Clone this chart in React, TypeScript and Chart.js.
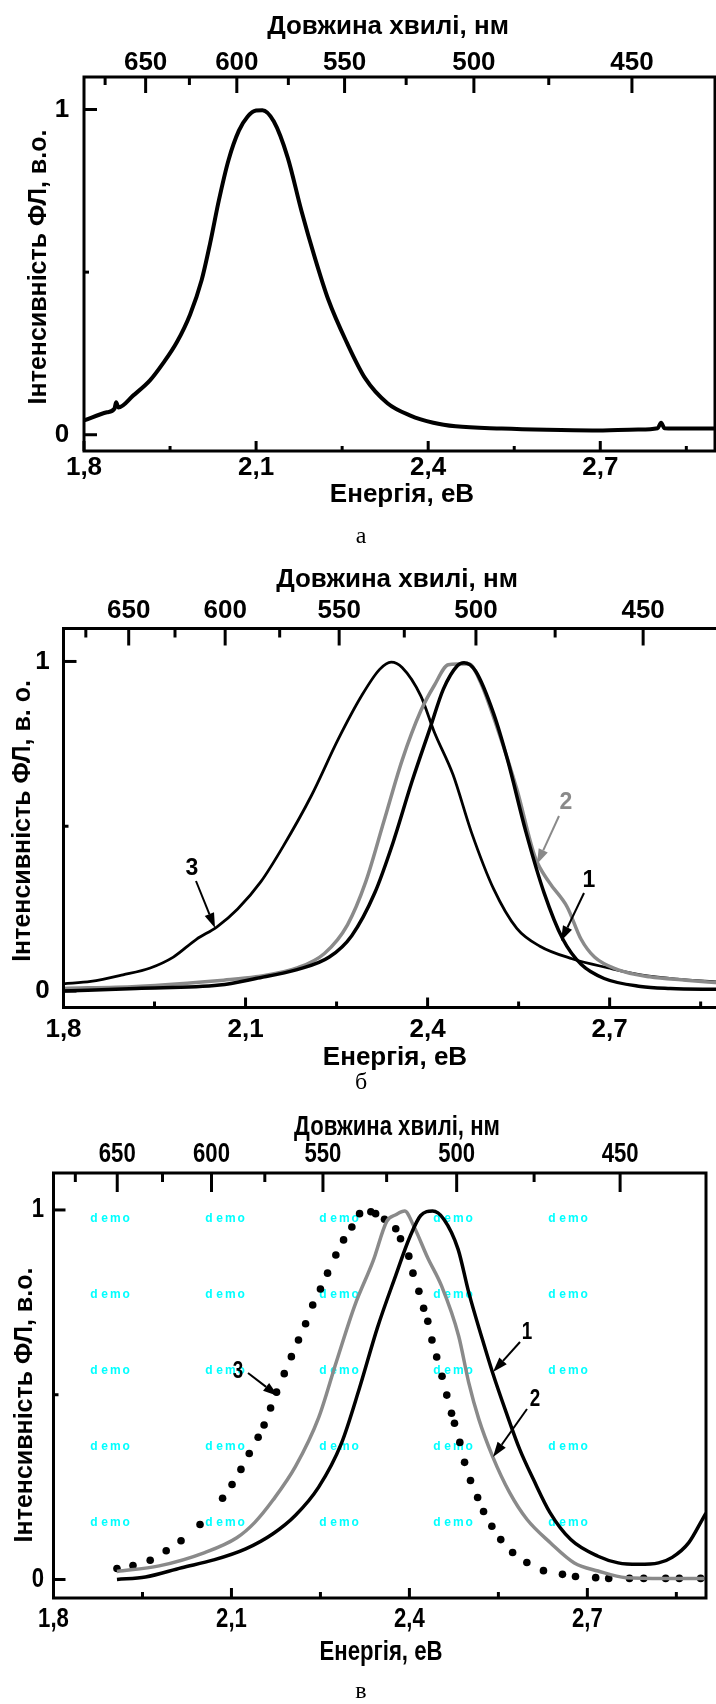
import React, { useEffect, useRef } from "react";
import { Chart, registerables } from "chart.js";

Chart.register(...registerables);

// ---------- axis ticks ----------
const ENERGY_TICKS = [1.8, 2.1, 2.4, 2.7];
const ENERGY_MINOR = [1.95, 2.25, 2.55, 2.85];
const WAVELENGTH_TICKS = [650, 600, 550, 500, 450];
const WAVELENGTH_MINOR = [675, 625, 575, 525, 475];
const INTENSITY_TICKS = [0, 1];
const INTENSITY_MINOR = [0.5];
const HC = 1239.84; // eV*nm

// ---------- panel a ----------
const A_E = [1.8, 1.84, 1.853, 1.856, 1.86, 1.886, 1.915, 1.938, 1.962, 1.985, 2.005, 2.02, 2.035, 2.052, 2.07, 2.085, 2.1, 2.111, 2.131, 2.155, 2.179, 2.202, 2.226, 2.258, 2.29, 2.329, 2.369, 2.409, 2.448, 2.528, 2.607, 2.686, 2.766, 2.8, 2.806, 2.812, 2.85, 2.9];
const A_I = [0.044, 0.069, 0.08, 0.1, 0.084, 0.121, 0.167, 0.22, 0.285, 0.37, 0.475, 0.59, 0.72, 0.845, 0.935, 0.978, 0.997, 0.998, 0.963, 0.853, 0.689, 0.547, 0.415, 0.284, 0.174, 0.097, 0.059, 0.037, 0.026, 0.019, 0.015, 0.013, 0.016, 0.02, 0.037, 0.02, 0.019, 0.019];

// ---------- panel b ----------
const B1_E = [1.8, 1.92, 2.057, 2.117, 2.185, 2.238, 2.275, 2.313, 2.343, 2.374, 2.404, 2.426, 2.449, 2.46, 2.479, 2.509, 2.532, 2.562, 2.592, 2.623, 2.653, 2.691, 2.751, 2.8, 2.88];
const B1_I = [0.0, 0.008, 0.018, 0.038, 0.065, 0.103, 0.168, 0.298, 0.45, 0.634, 0.797, 0.916, 0.987, 0.996, 0.971, 0.841, 0.7, 0.483, 0.298, 0.157, 0.081, 0.038, 0.014, 0.008, 0.005];
const B2_E = [1.8, 1.92, 2.064, 2.117, 2.185, 2.23, 2.268, 2.298, 2.328, 2.358, 2.389, 2.411, 2.434, 2.449, 2.468, 2.487, 2.517, 2.547, 2.577, 2.6, 2.63, 2.653, 2.675, 2.713, 2.766, 2.826, 2.88];
const B2_I = [0.008, 0.014, 0.033, 0.043, 0.07, 0.114, 0.201, 0.331, 0.515, 0.7, 0.851, 0.927, 0.99, 0.992, 0.992, 0.938, 0.786, 0.613, 0.407, 0.331, 0.255, 0.157, 0.103, 0.065, 0.043, 0.033, 0.025];
const B3_E = [1.8, 1.845, 1.898, 1.943, 1.981, 2.019, 2.053, 2.087, 2.125, 2.162, 2.208, 2.253, 2.291, 2.321, 2.34, 2.358, 2.389, 2.411, 2.442, 2.472, 2.509, 2.547, 2.585, 2.638, 2.698, 2.751, 2.811, 2.88];
const B3_I = [0.022, 0.029, 0.049, 0.07, 0.103, 0.157, 0.195, 0.249, 0.331, 0.439, 0.591, 0.765, 0.895, 0.976, 0.998, 0.982, 0.895, 0.786, 0.656, 0.483, 0.309, 0.19, 0.136, 0.098, 0.07, 0.049, 0.036, 0.027];

// ---------- panel c ----------
const C1_E = [1.907, 1.955, 2.016, 2.07, 2.124, 2.17, 2.208, 2.247, 2.285, 2.316, 2.346, 2.377, 2.4, 2.419, 2.439, 2.458, 2.482, 2.5, 2.523, 2.54, 2.563, 2.586, 2.609, 2.637, 2.672, 2.718, 2.752, 2.786, 2.82, 2.843, 2.871, 2.894, 2.9];
const C1_I = [0.0, 0.007, 0.032, 0.053, 0.083, 0.124, 0.174, 0.25, 0.367, 0.519, 0.681, 0.823, 0.924, 0.985, 0.997, 0.975, 0.894, 0.777, 0.65, 0.561, 0.453, 0.352, 0.271, 0.181, 0.108, 0.063, 0.045, 0.041, 0.045, 0.06, 0.1, 0.163, 0.18];
const C2_E = [1.907, 1.978, 2.055, 2.109, 2.139, 2.17, 2.208, 2.247, 2.277, 2.308, 2.339, 2.362, 2.377, 2.392, 2.408, 2.431, 2.454, 2.483, 2.5, 2.517, 2.54, 2.569, 2.598, 2.638, 2.678, 2.718, 2.765, 2.83, 2.9];
const C2_I = [0.022, 0.037, 0.073, 0.113, 0.154, 0.215, 0.306, 0.438, 0.59, 0.742, 0.863, 0.97, 0.987, 0.997, 0.954, 0.87, 0.795, 0.659, 0.533, 0.434, 0.334, 0.235, 0.163, 0.099, 0.045, 0.023, 0.005, 0.003, 0.003];
const C3_E = [1.907, 1.934, 1.963, 1.99, 2.015, 2.047, 2.085, 2.101, 2.116, 2.13, 2.145, 2.155, 2.166, 2.176, 2.189, 2.201, 2.213, 2.225, 2.237, 2.25, 2.262, 2.276, 2.289, 2.303, 2.316, 2.335, 2.343, 2.358, 2.377, 2.385, 2.399, 2.406, 2.416, 2.424, 2.431, 2.438, 2.446, 2.455, 2.463, 2.471, 2.476, 2.485, 2.493, 2.503, 2.515, 2.525, 2.539, 2.554, 2.574, 2.598, 2.626, 2.658, 2.68, 2.714, 2.736, 2.771, 2.795, 2.832, 2.855, 2.891];
const C3_I = [0.03, 0.038, 0.052, 0.078, 0.105, 0.149, 0.22, 0.257, 0.298, 0.341, 0.385, 0.418, 0.464, 0.507, 0.557, 0.603, 0.648, 0.692, 0.743, 0.786, 0.829, 0.878, 0.919, 0.954, 0.99, 0.995, 0.99, 0.975, 0.949, 0.922, 0.875, 0.829, 0.78, 0.734, 0.699, 0.648, 0.602, 0.55, 0.499, 0.45, 0.423, 0.371, 0.317, 0.268, 0.222, 0.184, 0.144, 0.108, 0.073, 0.046, 0.024, 0.014, 0.008, 0.005, 0.003, 0.003, 0.003, 0.003, 0.003, 0.003];

// ---------- text ----------
const TOP_TITLE = "Довжина хвилі, нм";
const X_TITLE = "Енергія, еВ";
const Y_TITLE_A = "Інтенсивність ФЛ, в.о.";
const Y_TITLE_B = "Інтенсивність ФЛ, в. о.";
const Y_TITLE_C = "Інтенсивність ФЛ, в.о.";

const SANS = '"Liberation Sans", Arial, Helvetica, sans-serif';
const SERIF = '"Liberation Serif", "Times New Roman", serif';
const GRAY = "#8a8a8a";

type Arrow = { label: string; color: string; tx: number; ty: number; x1: number; y1: number; x2: number; y2: number };
type Cfg = {
  top: number; width: number; height: number;
  plot: { l: number; t: number; r: number; b: number }; // absolute page coords
  sx: number; fontSize: number;
  topTitle: [number, number]; xTitle: [number, number]; yTitle: [number, number];
  yTitleText: string; caption: [string, number, number];
  topLabY: number; botLabY: number; leftLabX: number;
  tk: { tM: number; tm: number; bM: number; bm: number; lM: number; lm: number };
  arrows: Arrow[]; demo: boolean; frameW: number;
};

function txt(ctx: CanvasRenderingContext2D, s: string, x: number, y: number, font: string, sx = 1, color = "#000", rot = 0) {
  ctx.save();
  ctx.font = font;
  ctx.fillStyle = color;
  ctx.textAlign = "center";
  ctx.textBaseline = "middle";
  ctx.translate(x, y);
  if (rot) ctx.rotate(rot);
  ctx.scale(sx, 1);
  ctx.fillText(s, 0, 0);
  ctx.restore();
}

function drawArrow(ctx: CanvasRenderingContext2D, a: Arrow, dy: number) {
  const x1 = a.x1, y1 = a.y1 - dy, x2 = a.x2, y2 = a.y2 - dy;
  const ang = Math.atan2(y2 - y1, x2 - x1);
  const hl = 15, hw = 5;
  const bx = x2 - hl * Math.cos(ang), by = y2 - hl * Math.sin(ang);
  ctx.save();
  ctx.strokeStyle = a.color;
  ctx.fillStyle = a.color;
  ctx.lineWidth = 2;
  ctx.beginPath();
  ctx.moveTo(x1, y1);
  ctx.lineTo(bx, by);
  ctx.stroke();
  ctx.beginPath();
  ctx.moveTo(x2, y2);
  ctx.lineTo(bx + hw * Math.sin(ang), by - hw * Math.cos(ang));
  ctx.lineTo(bx - hw * Math.sin(ang), by + hw * Math.cos(ang));
  ctx.closePath();
  ctx.fill();
  ctx.restore();
}

const DEMO_X = [110, 225, 339, 453, 568];
const DEMO_Y = [1219, 1295, 1371, 1447, 1523];

function makePlugin(cfg: Cfg) {
  const dy = cfg.top;
  return {
    id: "frame" + cfg.top,
    beforeDatasetsDraw(chart: any) {
      if (!cfg.demo) return;
      const ctx = chart.ctx as CanvasRenderingContext2D;
      ctx.save();
      ctx.font = `bold 12px ${SANS}`;
      ctx.fillStyle = "#00ffff";
      ctx.textAlign = "center";
      ctx.textBaseline = "middle";
      const chars = ["d", "e", "m", "o"];
      DEMO_Y.forEach((yy) => DEMO_X.forEach((xx) => chars.forEach((c, i) => ctx.fillText(c, xx + (i - 1.5) * 10.7, yy - dy))));
      ctx.restore();
    },
    afterDatasetsDraw(chart: any) {
      const ctx = chart.ctx as CanvasRenderingContext2D;
      const { left, right, top, bottom } = chart.chartArea;
      const xs = chart.scales.x, ys = chart.scales.y;
      ctx.save();
      ctx.strokeStyle = "#000";
      ctx.lineWidth = cfg.frameW;
      ctx.lineCap = "butt";
      const seg = (a: number, b: number, c: number, d: number) => { ctx.beginPath(); ctx.moveTo(a, b); ctx.lineTo(c, d); ctx.stroke(); };
      ENERGY_TICKS.forEach((e) => { const x = xs.getPixelForValue(e); seg(x, bottom, x, bottom - cfg.tk.bM); });
      ENERGY_MINOR.forEach((e) => { const x = xs.getPixelForValue(e); seg(x, bottom, x, bottom - cfg.tk.bm); });
      WAVELENGTH_TICKS.forEach((w) => { const x = xs.getPixelForValue(HC / w); seg(x, top, x, top + cfg.tk.tM); });
      WAVELENGTH_MINOR.forEach((w) => { const x = xs.getPixelForValue(HC / w); seg(x, top, x, top + cfg.tk.tm); });
      INTENSITY_TICKS.forEach((v) => { const y = ys.getPixelForValue(v); seg(left, y, left + cfg.tk.lM, y); });
      INTENSITY_MINOR.forEach((v) => { const y = ys.getPixelForValue(v); seg(left, y, left + cfg.tk.lm, y); });
      ctx.strokeRect(left, top, right - left, bottom - top);
      ctx.restore();
    },
    afterDraw(chart: any) {
      const ctx = chart.ctx as CanvasRenderingContext2D;
      const xs = chart.scales.x, ys = chart.scales.y;
      const f = `bold ${cfg.fontSize}px ${SANS}`;
      ENERGY_TICKS.forEach((e) => txt(ctx, e.toFixed(1).replace(".", ","), xs.getPixelForValue(e), cfg.botLabY - dy, f, cfg.sx));
      WAVELENGTH_TICKS.forEach((w) => txt(ctx, String(w), xs.getPixelForValue(HC / w), cfg.topLabY - dy, f, cfg.sx));
      INTENSITY_TICKS.forEach((v) => txt(ctx, String(v), cfg.leftLabX, ys.getPixelForValue(v), f, cfg.sx));
      txt(ctx, TOP_TITLE, cfg.topTitle[0], cfg.topTitle[1] - dy, f, cfg.sx);
      txt(ctx, X_TITLE, cfg.xTitle[0], cfg.xTitle[1] - dy, f, cfg.sx);
      txt(ctx, cfg.yTitleText, cfg.yTitle[0], cfg.yTitle[1] - dy, `bold 25px ${SANS}`, 1, "#000", -Math.PI / 2);
      txt(ctx, cfg.caption[0], cfg.caption[1], cfg.caption[2] - dy, `24px ${SERIF}`);
      cfg.arrows.forEach((a) => {
        drawArrow(ctx, a, dy);
        txt(ctx, a.label, a.tx, a.ty - dy, `bold 23px ${SANS}`, cfg.sx, a.color);
      });
    },
  };
}

const lineDs = (xs: number[], ys: number[], color: string, w: number) => ({
  data: xs.map((x, i) => ({ x, y: ys[i] })),
  showLine: true,
  borderColor: color,
  borderWidth: w,
  pointRadius: 0,
  cubicInterpolationMode: "monotone",
  fill: false,
});
const dotDs = (xs: number[], ys: number[]) => ({
  data: xs.map((x, i) => ({ x, y: ys[i] })),
  showLine: false,
  pointRadius: 3.8,
  pointBackgroundColor: "#000",
  pointBorderWidth: 0,
  borderColor: "#000",
});

const CFG_A: Cfg = {
  top: 0, width: 716, height: 560,
  plot: { l: 84, t: 77, r: 715, b: 451 },
  sx: 1, fontSize: 26,
  topTitle: [388, 27], xTitle: [402, 495], yTitle: [39, 267], yTitleText: Y_TITLE_A,
  caption: ["а", 361, 537],
  topLabY: 63, botLabY: 468, leftLabX: 62,
  tk: { tM: 16, tm: 8, bM: 10, bm: 5, lM: 13, lm: 5 },
  arrows: [], demo: false, frameW: 3,
};
const CFG_B: Cfg = {
  top: 560, width: 745, height: 550,
  plot: { l: 63.5, t: 628.5, r: 731, b: 1007.5 },
  sx: 1, fontSize: 26,
  topTitle: [397, 580], xTitle: [395, 1058], yTitle: [23, 821], yTitleText: Y_TITLE_B,
  caption: ["б", 361, 1083],
  topLabY: 611, botLabY: 1030, leftLabX: 42.5,
  tk: { tM: 17, tm: 9, bM: 10, bm: 6, lM: 13, lm: 5 },
  arrows: [
    { label: "3", color: "#000", tx: 192, ty: 869, x1: 196, y1: 881, x2: 215, y2: 928 },
    { label: "2", color: GRAY, tx: 566, ty: 803, x1: 559, y1: 816, x2: 537, y2: 864 },
    { label: "1", color: "#000", tx: 589, ty: 881, x1: 584, y1: 893, x2: 561, y2: 941 },
  ],
  demo: false, frameW: 3,
};
const CFG_C: Cfg = {
  top: 1110, width: 716, height: 594,
  plot: { l: 53.5, t: 1173, r: 706, b: 1598 },
  sx: 0.82, fontSize: 27,
  topTitle: [397, 1128], xTitle: [381, 1653], yTitle: [25, 1405], yTitleText: Y_TITLE_C,
  caption: ["в", 361, 1692],
  topLabY: 1155, botLabY: 1620, leftLabX: 38,
  tk: { tM: 19, tm: 9, bM: 10, bm: 6, lM: 12, lm: 5 },
  arrows: [
    { label: "3", color: "#000", tx: 238, ty: 1372, x1: 248, y1: 1373, x2: 278, y2: 1396 },
    { label: "1", color: "#000", tx: 527, ty: 1333, x1: 520, y1: 1342, x2: 493, y2: 1372 },
    { label: "2", color: "#000", tx: 535, ty: 1400, x1: 527, y1: 1409, x2: 493, y2: 1457 },
  ],
  demo: true, frameW: 3,
};

function Panel({ cfg, datasets }: { cfg: Cfg; datasets: any[] }) {
  const ref = useRef<HTMLCanvasElement>(null);
  useEffect(() => {
    const p = cfg.plot;
    const chart = new Chart(ref.current as HTMLCanvasElement, {
      type: "scatter",
      data: { datasets },
      options: {
        responsive: false,
        animation: false,
        devicePixelRatio: 1,
        events: [],
        layout: { padding: { left: p.l, top: p.t - cfg.top, right: cfg.width - p.r, bottom: cfg.height - (p.b - cfg.top) } },
        plugins: { legend: { display: false }, tooltip: { enabled: false } },
        scales: {
          x: { type: "linear", min: 1.8, max: 2.9, display: false },
          y: { type: "linear", min: -0.05, max: 1.1, display: false },
        },
      } as any,
      plugins: [makePlugin(cfg) as any],
    });
    return () => chart.destroy();
  }, []);
  return (
    <canvas
      ref={ref}
      width={cfg.width}
      height={cfg.height}
      style={{ position: "absolute", left: 0, top: cfg.top, width: cfg.width, height: cfg.height }}
    />
  );
}

export default function App() {
  return (
    <div style={{ position: "absolute", left: 0, top: 0, width: 716, height: 1704, overflow: "hidden", background: "#fff" }}>
      <Panel cfg={CFG_A} datasets={[lineDs(A_E, A_I, "#000", 4)]} />
      <Panel
        cfg={CFG_B}
        datasets={[lineDs(B1_E, B1_I, "#000", 3.5), lineDs(B2_E, B2_I, GRAY, 3.5), lineDs(B3_E, B3_I, "#000", 2.8)]}
      />
      <Panel
        cfg={CFG_C}
        datasets={[lineDs(C1_E, C1_I, "#000", 3.5), lineDs(C2_E, C2_I, GRAY, 3.5), dotDs(C3_E, C3_I)]}
      />
    </div>
  );
}
